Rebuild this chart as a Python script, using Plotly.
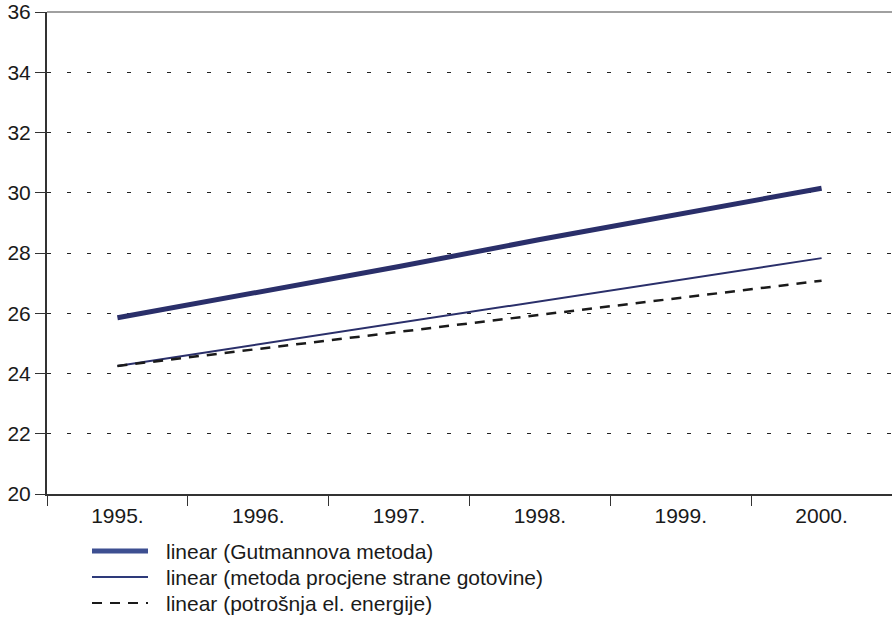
import plotly.graph_objects as go

years = ["1995.", "1996.", "1997.", "1998.", "1999.", "2000."]
gutmann = [25.85, 26.70, 27.55, 28.45, 29.30, 30.15]
gotovina = [24.25, 24.97, 25.68, 26.40, 27.12, 27.83]
energija = [24.25, 24.82, 25.38, 25.95, 26.52, 27.08]
names = ["linear (Gutmannova metoda)",
         "linear (metoda procjene strane gotovine)",
         "linear (potrošnja el. energije)"]

W, H = 892, 634
L, R, T, B = 47, 0, 12, 140
FONT = "Liberation Sans, Arial, Helvetica, sans-serif"

fig = go.Figure()
fig.add_trace(go.Scatter(x=years, y=gutmann, mode="lines", name=names[0],
                         line=dict(color="#2a2f6a", width=5)))
fig.add_trace(go.Scatter(x=years, y=gotovina, mode="lines", name=names[1],
                         line=dict(color="#2a2f6a", width=2)))
fig.add_trace(go.Scatter(x=years, y=energija, mode="lines", name=names[2],
                         line=dict(color="#1a1a1a", width=2.5, dash="10px,8px")))

pw = W - L - R
ph = H - T - B
def px(x):
    return (x - L) / pw
def py(y):
    return (H - B - y) / ph

shapes = [dict(type="line", xref="paper", yref="paper", x0=0, x1=1, y0=1, y1=1,
               line=dict(color="#a0a0a0", width=2))]
annotations = []
leg_styles = [dict(color="#3d4f91", width=5), dict(color="#2e3a7a", width=2),
              dict(color="#1a1a1a", width=2, dash="10px,8px")]
leg_y = [551, 577, 603]
for nm, st, yy in zip(names, leg_styles, leg_y):
    shapes.append(dict(type="line", xref="paper", yref="paper",
                       x0=px(92), x1=px(148), y0=py(yy), y1=py(yy), line=st))
    annotations.append(dict(xref="paper", yref="paper", x=px(164), y=py(yy),
                            text=nm, showarrow=False, xanchor="left", yanchor="middle",
                            font=dict(size=21, color="#1a1a1a", family=FONT)))

fig.update_layout(
    width=W, height=H,
    margin=dict(l=L, r=R, t=T, b=B),
    paper_bgcolor="white", plot_bgcolor="white",
    showlegend=False,
    font=dict(family=FONT, size=21, color="#1a1a1a"),
    shapes=shapes, annotations=annotations,
    xaxis=dict(type="category", range=[-0.5, 5.5], tickson="boundaries",
               ticks="outside", ticklen=10, tickcolor="#333", tickwidth=1,
               tickfont=dict(size=21), ticklabelstandoff=2,
               showgrid=False, showline=True, linecolor="#333", linewidth=2,
               zeroline=False, fixedrange=True),
    yaxis=dict(range=[20, 36], dtick=2, tick0=20, ticks="outside", ticklen=10,
               tickcolor="#333", tickwidth=1, tickfont=dict(size=21),
               ticklabeloverflow="allow",
               showline=True, linecolor="#333", linewidth=2,
               showgrid=True, gridcolor="#222", gridwidth=1.2, griddash="4px,16px",
               zeroline=False, fixedrange=True),
)

fig.write_html("out.html", config={"displayModeBar": False},
               post_script="document.body.style.margin='0px';")
